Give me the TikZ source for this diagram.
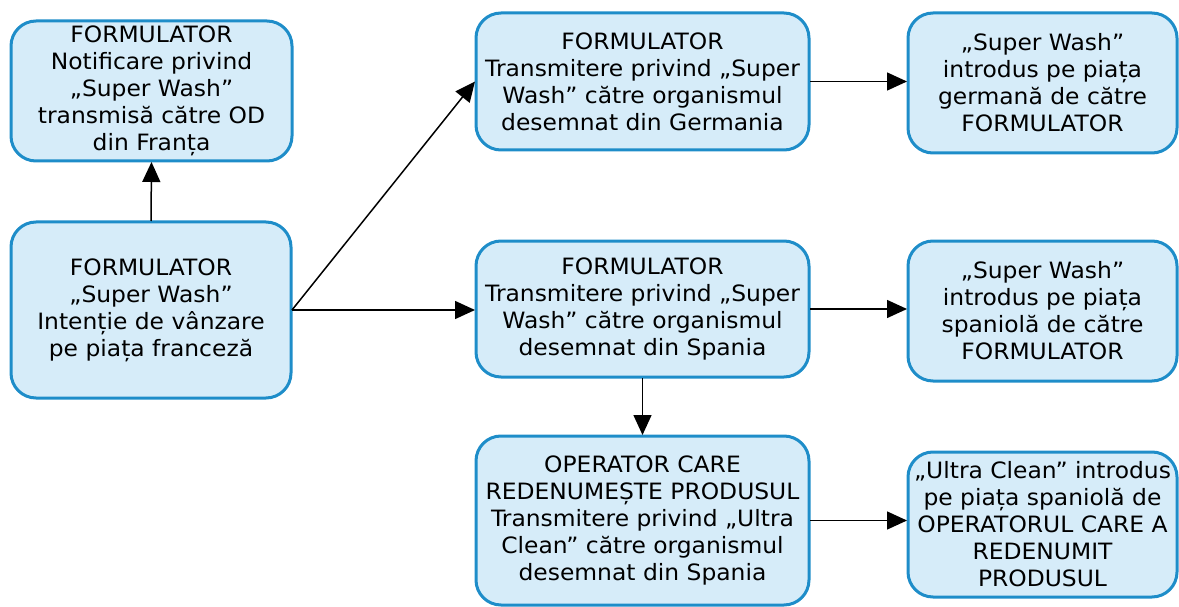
\documentclass[tikz,border=0pt]{standalone}
\usepackage{fontspec}
\setmainfont[FakeStretch=1.04]{DejaVu Sans}
\usetikzlibrary{arrows.meta}
\definecolor{boxfill}{HTML}{D6ECF9}
\definecolor{boxline}{HTML}{1E8DC9}
\begin{document}
\begin{tikzpicture}[x=1pt,y=-1pt,
  flowbox/.style={draw=boxline, fill=boxfill, line width=3pt, rounded corners=25pt,
    align=center, inner sep=0pt, outer sep=1pt,
    font=\fontsize{22.5}{27}\selectfont},
  link/.style={line width=1.5pt, -{Triangle[length=20pt,width=18pt]}}]
\useasboundingbox (0,0) rectangle (1179,607);

% left column
\node[flowbox, minimum width=281pt, minimum height=140pt] (notif) at (151.5,91)
  {FORMULATOR\\Notificare privind\\„Super Wash”\\transmisă către OD\\din Franța};
\node[flowbox, minimum width=280pt, minimum height=176pt] (intent) at (151,310)
  {FORMULATOR\\„Super Wash”\\Intenție de vânzare\\pe piața franceză};

% middle column
\node[flowbox, minimum width=333pt, minimum height=137pt] (germ) at (642.5,81.5)
  {FORMULATOR\\Transmitere privind „Super\\Wash” către organismul\\desemnat din Germania};
\node[flowbox, minimum width=333pt, minimum height=136pt] (spain) at (642.5,309)
  {FORMULATOR\\Transmitere privind „Super\\Wash” către organismul\\desemnat din Spania};
\node[flowbox, minimum width=333pt, minimum height=169pt] (rename) at (642.5,520.5)
  {OPERATOR CARE\\REDENUMEȘTE PRODUSUL\\Transmitere privind „Ultra\\Clean” către organismul\\desemnat din Spania};

% right column
\node[flowbox, minimum width=269pt, minimum height=140pt] (germmkt) at (1042.5,83)
  {„Super Wash”\\introdus pe piața\\germană de către\\FORMULATOR};
\node[flowbox, minimum width=269pt, minimum height=140pt] (spainmkt) at (1042.5,311)
  {„Super Wash”\\introdus pe piața\\spaniolă de către\\FORMULATOR};
\node[flowbox, minimum width=269pt, minimum height=145pt] (ultramkt) at (1042.5,524.5)
  {„Ultra Clean” introdus\\pe piața spaniolă de\\OPERATORUL CARE A\\REDENUMIT\\PRODUSUL};

% connectors (horizontal runs keep the source height)
\draw[link] (intent.north) -- (notif.south);
\draw[link] (intent.east) -- (germ.west);
\draw[link] (intent.east) -- (intent.east -| spain.west);
\draw[link] (germ.east) -- (germ.east -| germmkt.west);
\draw[link] (spain.east) -- (spain.east -| spainmkt.west);
\draw[link] (spain.south) -- (rename.north);
\draw[link] (rename.east) -- (rename.east -| ultramkt.west);
\end{tikzpicture}
\end{document}
